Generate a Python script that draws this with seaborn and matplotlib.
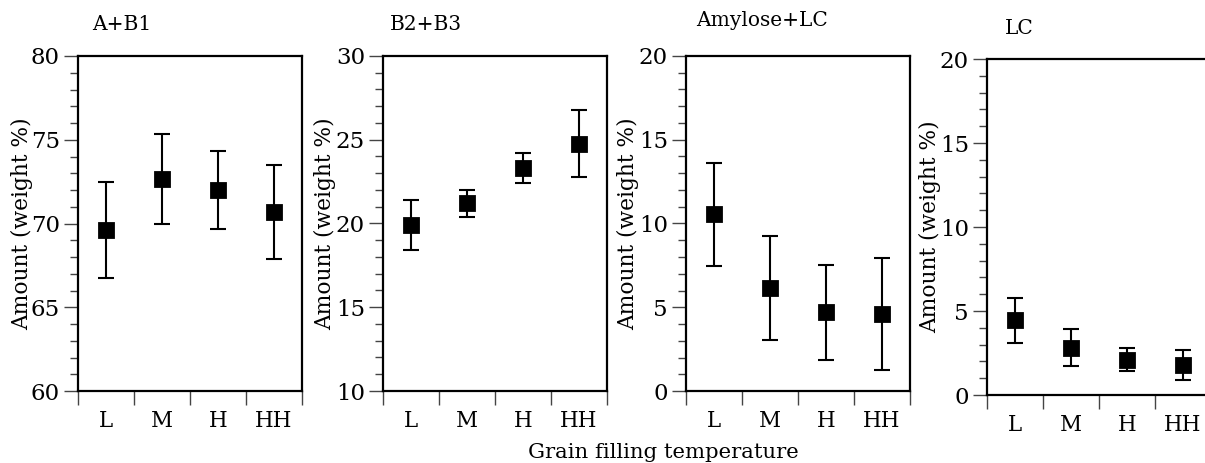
import numpy as np
import pandas as pd
import matplotlib
matplotlib.use("Agg")
import matplotlib.pyplot as plt
import seaborn as sns
from matplotlib.ticker import MultipleLocator, FixedLocator, NullFormatter

# ---- data ----
categories = ["L", "M", "H", "HH"]
titles = ["A+B1", "B2+B3", "Amylose+LC", "LC"]
ab1_mean = [69.6, 72.65, 72.0, 70.7]
ab1_err = [2.85, 2.7, 2.35, 2.8]
b23_mean = [19.9, 21.2, 23.3, 24.75]
b23_err = [1.5, 0.8, 0.88, 2.0]
amy_mean = [10.55, 6.15, 4.7, 4.6]
amy_err = [3.07, 3.13, 2.82, 3.35]
lc_mean = [4.45, 2.8, 2.1, 1.8]
lc_err = [1.35, 1.1, 0.7, 0.9]
ylims = [(60, 80), (10, 30), (0, 20), (0, 20)]
ylabel = "Amount (weight %)"
xlabel = "Grain filling temperature"

sns.set_theme(style="ticks")
plt.rcParams["font.family"] = ["DejaVu Serif"]

W, H = 1205, 463
fig = plt.figure(figsize=(W / 100, H / 100), dpi=100)

# axes boxes in pixels: left, top, right, bottom
boxes = [(78, 56, 302, 391), (383, 56, 607, 391), (686, 56, 910, 391), (987, 59, 1211, 395)]
title_pos = [(92, 25), (390, 25), (696, 21), (1005, 28)]
ylabel_x = [22, 325, 628, 930]

means = [ab1_mean, b23_mean, amy_mean, lc_mean]
errs = [ab1_err, b23_err, amy_err, lc_err]

for i in range(4):
    l, t, r, b = boxes[i]
    ax = fig.add_axes([l / W, 1 - b / H, (r - l) / W, (b - t) / H])
    df = pd.DataFrame({"cat": categories, "val": means[i]})
    sns.pointplot(data=df, x="cat", y="val", order=categories, color="black",
                  errorbar=None, marker="s", markersize=10.5, linestyle="none", ax=ax)
    ax.errorbar(np.arange(len(categories)), means[i], yerr=errs[i], fmt="none",
                ecolor="black", elinewidth=1.5, capsize=5.5, capthick=1.5, zorder=1)
    ax.set_xlim(-0.5, 3.5)
    ax.set_ylim(*ylims[i])
    ax.set_xlabel("")
    ax.set_ylabel("")
    for s in ax.spines.values():
        s.set_visible(True)
        s.set_linewidth(1.6)
        s.set_color("black")
    ax.xaxis.set_major_locator(FixedLocator(range(len(categories))))
    ax.set_xticklabels(categories)
    ax.xaxis.set_minor_locator(FixedLocator([-0.5, 0.5, 1.5, 2.5, 3.5]))
    ax.xaxis.set_minor_formatter(NullFormatter())
    ax.tick_params(axis="x", which="major", length=0, pad=14, labelsize=15.5, labelcolor="black")
    ax.tick_params(axis="x", which="minor", length=10, width=1.0, color="#444444", direction="out")
    ax.yaxis.set_major_locator(MultipleLocator(5))
    ax.yaxis.set_minor_locator(MultipleLocator(1))
    ax.tick_params(axis="y", which="major", length=10, width=1.0, color="#444444",
                   direction="out", pad=3, labelsize=16.5, labelcolor="black")
    ax.tick_params(axis="y", which="minor", length=5.5, width=1.0, color="#444444", direction="out")
    fig.text(title_pos[i][0] / W, 1 - title_pos[i][1] / H, titles[i], fontsize=14.5,
             ha="left", va="center", color="black")
    fig.text(ylabel_x[i] / W, 1 - ((t + b) / 2) / H, ylabel, rotation=90, fontsize=15.7,
             ha="center", va="center", color="black")

fig.text(663 / W, 1 - 452 / H, xlabel, fontsize=15.3, ha="center", va="center", color="black")

fig.savefig("out.png", dpi=100)
